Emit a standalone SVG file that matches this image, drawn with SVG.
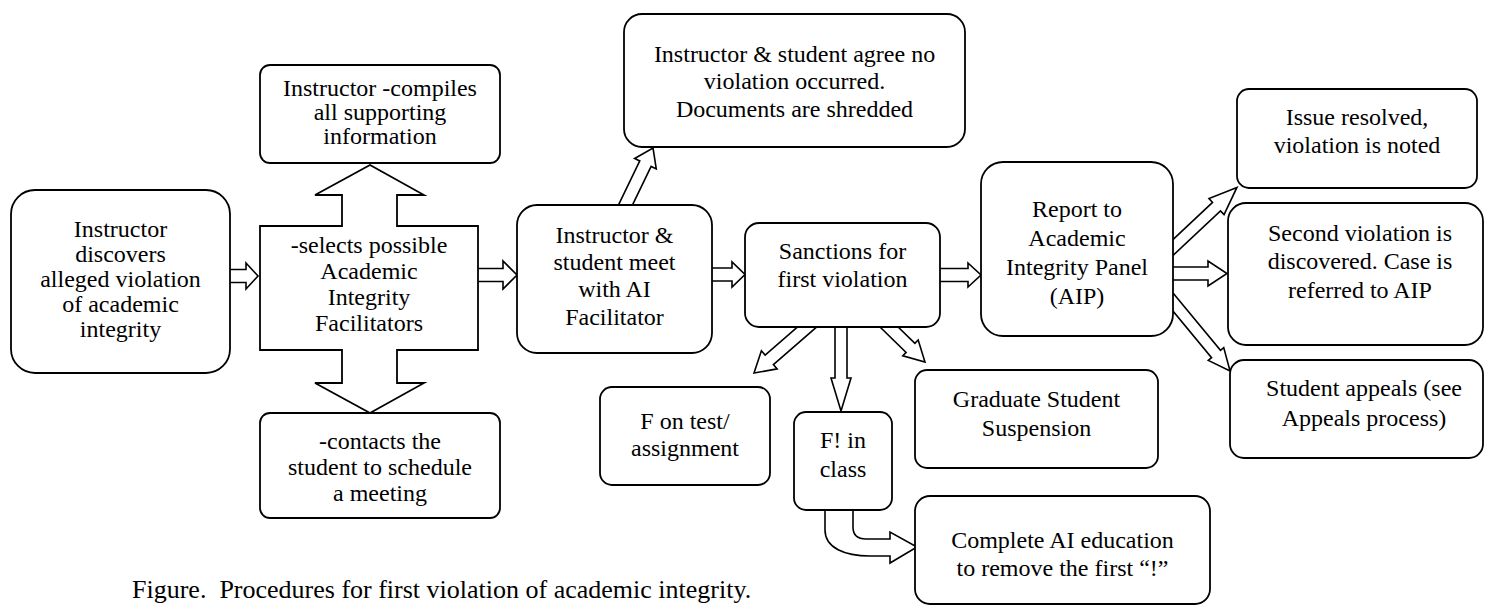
<svg xmlns="http://www.w3.org/2000/svg" width="1489" height="609" viewBox="0 0 1489 609">
<style>
.b{fill:#fff;stroke:#000;stroke-width:1.8}
.a{fill:#fff;stroke:#000;stroke-width:1.6;stroke-linejoin:miter}
.t{font-family:'Liberation Serif','Times New Roman',Times,serif;font-size:24px;fill:#000;text-anchor:middle}
.cap{font-family:'Liberation Serif','Times New Roman',Times,serif;font-size:26px;fill:#000;text-anchor:start}
</style>
<rect width="1489" height="609" fill="#fff"/>
<g id="connectors">
<polygon class="a" points="226,269.5 246,269.5 246,263 258,276 246,289 246,282.5 226,282.5"/>
<polygon class="a" points="474,268.5 503,268.5 503,261 517,275 503,289 503,281.5 474,281.5"/>
<polygon class="a" points="708,268 732,268 732,262 745,274.5 732,287 732,281 708,281"/>
<polygon class="a" points="936,268.5 968,268.5 968,263 981,275 968,287 968,281.5 936,281.5"/>
<polygon class="a" points="1169,267 1208,267 1208,261 1227,273.5 1208,286 1208,280 1169,280"/>
<polygon class="a" transform="translate(625,206) rotate(-64.2)" points="-6,-6.3 47,-6.3 47,-12 64.4,0 47,12 47,6.3 -6,6.3"/>
<polygon class="a" transform="translate(807,327) rotate(139)" points="-6,-6.3 50,-6.3 50,-12 70.2,0 50,12 50,6.3 -6,6.3"/>
<polygon class="a" points="835,322 847,322 847,378 851,378 841,411 831,378 835,378"/>
<polygon class="a" transform="translate(889,327) rotate(44.2)" points="-6,-6.3 30,-6.3 30,-11 50.2,0 30,11 30,6.3 -6,6.3"/>
<polygon class="a" transform="translate(1173,247.5) rotate(-43.2)" points="-6,-5.8 59.7,-5.8 59.7,-11 87.7,0 59.7,11 59.7,5.8 -6,5.8"/>
<polygon class="a" transform="translate(1173,302) rotate(50.4)" points="-6,-5.8 67.5,-5.8 67.5,-10 89.5,0 67.5,10 67.5,5.8 -6,5.8"/>
<path class="a" d="M825,504 L825,530 C825,548 845,556 870,556 L890,556 L890,563 L917,547 L890,532 L890,539 L866,539 Q853,539 853,527 L853,504 Z"/>
</g>
<g font-family="'Liberation Serif', 'Times New Roman', serif" font-size="24" text-anchor="middle">
<g id="n1">
<rect class="b" x="11" y="190" width="219" height="183" rx="24"/>
<text class="t" x="120.5" y="237">Instructor</text>
<text class="t" x="120.5" y="262">discovers</text>
<text class="t" x="120.5" y="287">alleged violation</text>
<text class="t" x="120.5" y="312">of academic</text>
<text class="t" x="120.5" y="337">integrity</text>
</g>
<g id="n2">
<rect class="b" x="260" y="65" width="240" height="98" rx="10"/>
<text class="t" x="380" y="96">Instructor -compiles</text>
<text class="t" x="380" y="120">all supporting</text>
<text class="t" x="380" y="144">information</text>
</g>
<g id="n3">
<polygon class="b" points="260,226 342,226 342,195 315,195 370,165 424,195 397,195 397,226 478,226 478,350 397,350 397,383 424,383 370,413 315,383 342,383 342,350 260,350"/>
<text class="t" x="369" y="253">-selects possible</text>
<text class="t" x="369" y="279">Academic</text>
<text class="t" x="369" y="305">Integrity</text>
<text class="t" x="369" y="331">Facilitators</text>
</g>
<g id="n4">
<rect class="b" x="260" y="413" width="240" height="105" rx="10"/>
<text class="t" x="380" y="449">-contacts the</text>
<text class="t" x="380" y="475">student to schedule</text>
<text class="t" x="380" y="501">a meeting</text>
</g>
<g id="n5">
<rect class="b" x="517" y="205" width="195" height="148" rx="20"/>
<text class="t" x="614.5" y="243">Instructor &amp;</text>
<text class="t" x="614.5" y="270">student meet</text>
<text class="t" x="614.5" y="297">with AI</text>
<text class="t" x="614.5" y="325">Facilitator</text>
</g>
<g id="n6">
<rect class="b" x="624" y="14" width="341" height="133" rx="18"/>
<text class="t" x="794.5" y="62">Instructor &amp; student agree no</text>
<text class="t" x="794.5" y="89">violation occurred.</text>
<text class="t" x="794.5" y="117">Documents are shredded</text>
</g>
<g id="n7">
<rect class="b" x="745" y="223" width="195" height="104" rx="14"/>
<text class="t" x="842.5" y="259">Sanctions for</text>
<text class="t" x="842.5" y="287">first violation</text>
</g>
<g id="n8">
<rect class="b" x="600" y="387" width="170" height="98" rx="12"/>
<text class="t" x="685" y="429">F on test/</text>
<text class="t" x="685" y="456">assignment</text>
</g>
<g id="n9">
<rect class="b" x="794" y="412" width="98" height="98" rx="12"/>
<text class="t" x="843" y="448">F! in</text>
<text class="t" x="843" y="477">class</text>
</g>
<g id="n10">
<rect class="b" x="915" y="370" width="243" height="98" rx="12"/>
<text class="t" x="1036.5" y="407">Graduate Student</text>
<text class="t" x="1036.5" y="436">Suspension</text>
</g>
<g id="n11">
<rect class="b" x="915" y="496" width="295" height="108" rx="15"/>
<text class="t" x="1062.5" y="548">Complete AI education</text>
<text class="t" x="1062.5" y="576">to remove the first “!”</text>
</g>
<g id="n12">
<rect class="b" x="981" y="162" width="192" height="174" rx="22"/>
<text class="t" x="1077" y="217">Report to</text>
<text class="t" x="1077" y="246">Academic</text>
<text class="t" x="1077" y="275">Integrity Panel</text>
<text class="t" x="1077" y="304">(AIP)</text>
</g>
<g id="n13">
<rect class="b" x="1237" y="89" width="240" height="99" rx="12"/>
<text class="t" x="1357" y="125">Issue resolved,</text>
<text class="t" x="1357" y="153">violation is noted</text>
</g>
<g id="n14">
<rect class="b" x="1228" y="203" width="255" height="142" rx="18"/>
<text class="t" x="1360" y="241">Second violation is</text>
<text class="t" x="1360" y="269">discovered. Case is</text>
<text class="t" x="1360" y="298">referred to AIP</text>
</g>
<g id="n15">
<rect class="b" x="1230" y="360" width="253" height="98" rx="14"/>
<text class="t" x="1364" y="396">Student appeals (see</text>
<text class="t" x="1364" y="426">Appeals process)</text>
</g>
</g>
<text class="cap" font-family="'Liberation Serif', serif" x="132" y="598">Figure.&#160; Procedures for first violation of academic integrity.</text>
</svg>
